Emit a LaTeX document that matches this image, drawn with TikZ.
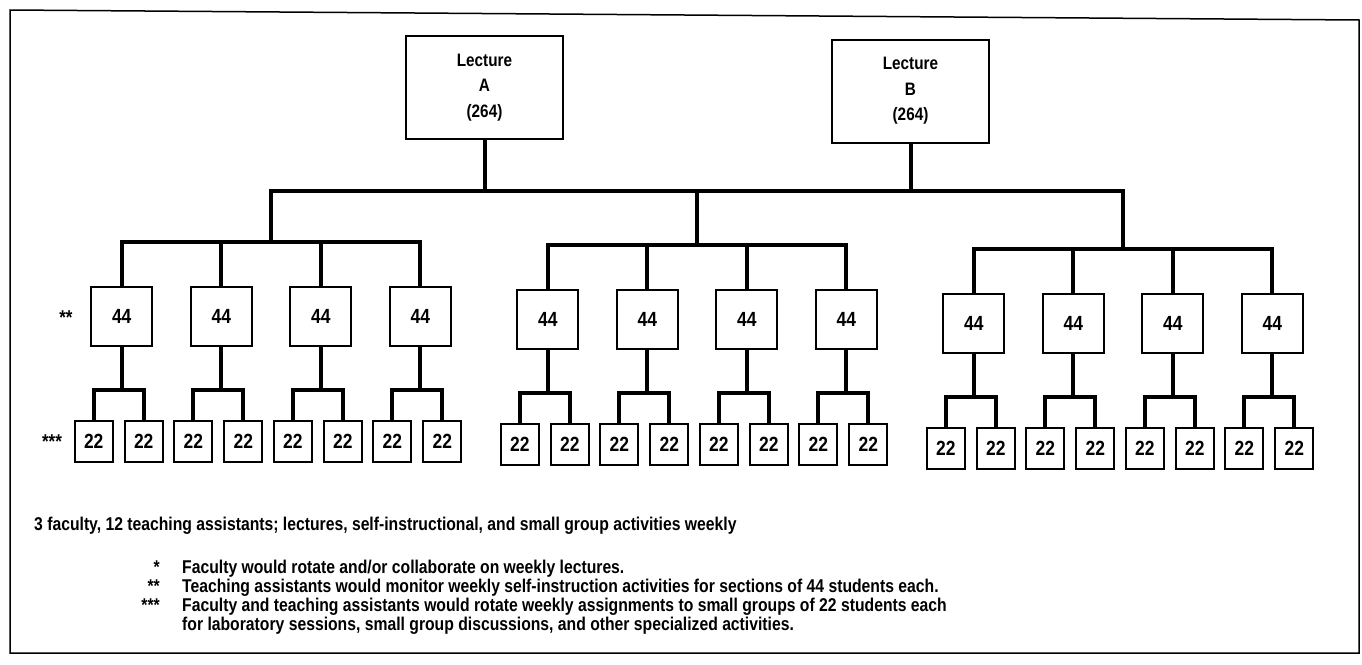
\documentclass[tikz,border=0pt]{standalone}
\usepackage{fontspec}
\setmainfont{Liberation Sans}[FakeStretch=0.85]
\begin{document}
\begin{tikzpicture}[x=1pt,y=-1pt,
    lecbox/.style={draw,line width=2pt,minimum width=157pt,minimum height=103pt,inner sep=0pt,align=center,font=\bfseries\fontsize{18}{25.5}\selectfont},
    secbox/.style={draw,line width=2pt,minimum width=61pt,minimum height=59pt,inner sep=0pt,font=\bfseries\fontsize{20.5}{22}\selectfont},
    grpbox/.style={draw,line width=2pt,minimum width=38pt,minimum height=41pt,inner sep=0pt,font=\bfseries\fontsize{20.5}{22}\selectfont},
    conn/.style={line width=4pt},
    note/.style={anchor=base west,inner sep=0pt,font=\bfseries\fontsize{18.5}{19}\selectfont}]

            \useasboundingbox (0,0) rectangle (1362,664);

            %frame
            \draw[line width=1.5pt] (10,10) -- (1359,20) -- (1359,653) -- (10,653) -- cycle;

            %lectures
            \node[lecbox] (lecA) at (484.5,87.5) {Lecture\\A\\(264)};

            \node[lecbox] (lecB) at (910.5,91) {Lecture\\B\\(264)};

            %sections and small groups
            \foreach \g/\gx/\dy in {1/271/0,2/697/3,3/1123/7}{
                \coordinate (g\g) at (\gx,242+\dy);
                \foreach \i in {1,...,4}{
                    \pgfmathsetmacro\px{\gx+(\i-2.5)*99.5}
                    \node[secbox] (s\g\i) at (\px,316.5+\dy) {44};
                    \coordinate (u\g\i) at (\px,390+\dy);
                    \node[grpbox] (t\g\i-a) at (\px-28,441.5+\dy) {22};
                    \node[grpbox] (t\g\i-b) at (\px+22,441.5+\dy) {22};
                    \draw[conn] (s\g\i.south) -- (u\g\i);
                    \draw[conn] (t\g\i-a.north) |- (u\g\i) -| (t\g\i-b.north);
                }
                \draw[conn] (s\g1.north) |- (g\g) -| (s\g4.north);
                \draw[conn] (s\g2.north) -- (s\g2.north |- g\g);
                \draw[conn] (s\g3.north) -- (s\g3.north |- g\g);
            }

            %main bar
            \coordinate (bar1) at (271,191);

            \coordinate (bar2) at (697,191);

            \coordinate (bar3) at (1123,191);

            \draw[conn] (lecA.south) -- (lecA.south |- bar1);

            \draw[conn] (lecB.south) -- (lecB.south |- bar1);

            \draw[conn] (g1) -- (bar1) -- (bar3) -- (g3);

            \draw[conn] (bar2) -- (g2);

            %row marks
            \node[font=\bfseries\fontsize{20}{20}\selectfont] (mark2) at (66,318) {**};

            \node[font=\bfseries\fontsize{20}{20}\selectfont] (mark3) at (52,442) {***};

            %notes
            \node[note] (summary) at (34,530) {3 faculty, 12 teaching assistants; lectures, self-instructional, and small group activities weekly};

            \node[note,anchor=base east] (key1) at (160,573) {*};

            \node[note] (note1) at (182,573) {Faculty would rotate and/or collaborate on weekly lectures.};

            \node[note,anchor=base east] (key2) at (160,592) {**};

            \node[note] (note2) at (182,592) {Teaching assistants would monitor weekly self-instruction activities for sections of 44 students each.};

            \node[note,anchor=base east] (key3) at (160,611) {***};

            \node[note] (note3) at (182,611) {Faculty and teaching assistants would rotate weekly assignments to small groups of 22 students each};

            \node[note] (note4) at (182,630) {for laboratory sessions, small group discussions, and other specialized activities.};
        \end{tikzpicture}
\end{document}
